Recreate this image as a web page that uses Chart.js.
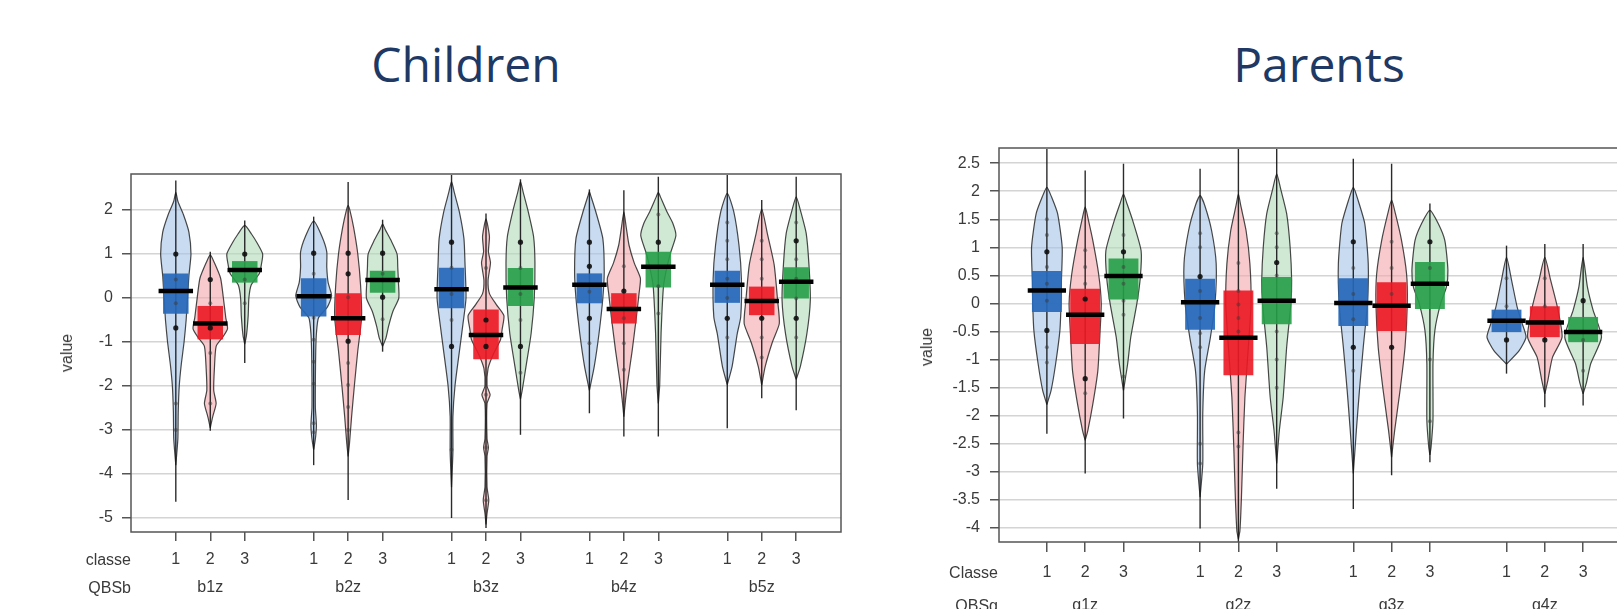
<!DOCTYPE html>
<html lang="en">
<head>
<meta charset="UTF-8">
<title>Children / Parents - pirate plots</title>
<script src="https://cdn.jsdelivr.net/npm/chart.js"></script>
<style>
  body {
    margin: 0;
    width: 1617px;
    height: 609px;
    overflow: hidden;
    position: relative;
    background: #fff;
    font-family: "Liberation Sans", Arial, sans-serif;
  }
  .title {
    position: absolute;
    top: 40px;
    font-family: "Open Sans", sans-serif;
    font-size: 48px;
    line-height: 1;
    color: #203864;
    transform: translateX(-50%);
    white-space: nowrap;
  }
  .wrap { position: absolute; }
  .lab {
    position: absolute;
    font-size: 16px;
    line-height: 20px;
    color: #3a3a3a;
    white-space: nowrap;
    transform: translate(-100%, -50%);
  }
  .ylab {
    position: absolute;
    font-size: 16px;
    line-height: 20px;
    color: #3a3a3a;
    transform: translate(-50%, -50%) rotate(-90deg);
  }
</style>
</head>
<body>
  <div class="title" style="left:466px">Children</div>
  <div class="title" style="left:1319px">Parents</div>

  <div class="wrap" style="left:40px; top:160px">
    <canvas id="childChart" width="820" height="449"></canvas>
  </div>
  <div class="wrap" style="left:900px; top:130px">
    <canvas id="parentChart" width="740" height="479"></canvas>
  </div>

  <div class="ylab" style="left:67px; top:353px">value</div>
  <div class="lab" style="left:131px; top:560px">classe</div>
  <div class="lab" style="left:131px; top:588px">QBSb</div>

  <div class="ylab" style="left:927px; top:347px">value</div>
  <div class="lab" style="left:998px; top:573px">Classe</div>
  <div class="lab" style="left:998px; top:606px">QBSg</div>

<script>
// ---- data ----
const classes = ['1', '2', '3'];
const childGroups = ['b1z', 'b2z', 'b3z', 'b4z', 'b5z'];
const parentGroups = ['g1z', 'g2z', 'g3z', 'g4z'];
const childTicks = [-5, -4, -3, -2, -1, 0, 1, 2];
const parentTicks = [-4, -3.5, -3, -2.5, -2, -1.5, -1, -0.5, 0, 0.5, 1, 1.5, 2, 2.5];

// children: order b1z(1,2,3), b2z(1,2,3), ...
const childMeans   = [0.16, -0.58, 0.64, 0.04, -0.46, 0.41, 0.2, -0.84, 0.24, 0.3, -0.25, 0.71, 0.3, -0.07, 0.37];
const childBoxHigh = [0.56, -0.18, 0.84, 0.45, 0.11, 0.62, 0.69, -0.26, 0.68, 0.56, 0.11, 1.05, 0.62, 0.26, 0.7];
const childBoxLow  = [-0.36, -0.94, 0.35, -0.42, -0.84, 0.12, -0.23, -1.39, -0.18, -0.12, -0.58, 0.24, -0.11, -0.39, -0.01];
const childLineTop = [2.67, 1.05, 1.76, 1.85, 2.64, 1.78, 2.8, 1.92, 2.7, 2.47, 2.45, 2.76, 2.8, 2.23, 2.76];
const childLineBottom = [-4.63, -3.02, -1.48, -3.8, -4.59, -1.22, -5.0, -5.23, -3.11, -2.62, -3.15, -3.15, -2.96, -2.28, -2.55];
// violin outline: [value, half width]
const childViolins = [
  [[-3.8,0],[-3.2,0.06],[-2.6,0.07],[-2,0.1],[-1.5,0.16],[-1,0.24],[-0.5,0.3],[0,0.34],[0.5,0.38],[1,0.44],[1.5,0.38],[1.9,0.22],[2.2,0.06],[2.4,0]],
  [[-2.95,0],[-2.7,0.07],[-2.4,0.17],[-2.1,0.1],[-1.6,0.12],[-1.1,0.17],[-0.9,0.35],[-0.7,0.5],[-0.45,0.45],[0,0.38],[0.45,0.3],[0.8,0.12],[0.98,0]],
  [[-1.05,0],[-0.85,0.05],[-0.4,0.1],[0,0.12],[0.3,0.19],[0.55,0.42],[0.75,0.48],[1,0.52],[1.25,0.36],[1.45,0.2],[1.65,0]],
  [[-3.45,0],[-3.2,0.05],[-2.9,0.08],[-2.5,0.05],[-1.8,0.05],[-1.2,0.06],[-0.8,0.08],[-0.45,0.14],[-0.2,0.4],[0.05,0.52],[0.35,0.42],[0.7,0.38],[1.05,0.38],[1.4,0.24],[1.75,0]],
  [[-3.6,0],[-3.3,0.04],[-2.7,0.1],[-2,0.18],[-1.2,0.28],[-0.45,0.39],[0.3,0.36],[1,0.28],[1.6,0.16],[2,0.05],[2.1,0]],
  [[-1.1,0],[-0.9,0.1],[-0.65,0.17],[-0.3,0.3],[0,0.47],[0.35,0.46],[0.7,0.44],[1,0.42],[1.3,0.25],[1.55,0.08],[1.68,0]],
  [[-4.3,0],[-3.5,0.04],[-2.7,0.04],[-2,0.1],[-1.2,0.23],[-0.6,0.33],[0,0.42],[0.8,0.39],[1.35,0.36],[1.95,0.23],[2.4,0.08],[2.65,0]],
  [[-5.15,0],[-4.9,0.03],[-4.6,0.08],[-4.3,0.03],[-3.6,0.03],[-3.4,0.07],[-3.2,0.03],[-2.4,0.03],[-2.2,0.12],[-2,0.03],[-1.6,0.06],[-1.3,0.2],[-0.95,0.42],[-0.7,0.47],[-0.4,0.52],[-0.15,0.3],[0.1,0.1],[0.4,0.06],[0.8,0.13],[1.05,0.07],[1.4,0.1],[1.8,0]],
  [[-2.3,0],[-2.1,0.05],[-1.56,0.16],[-0.8,0.31],[0,0.4],[0.8,0.42],[1.4,0.38],[1.95,0.23],[2.4,0.08],[2.65,0]],
  [[-2.1,0],[-1.56,0.14],[-0.8,0.28],[0,0.39],[0.6,0.43],[1.35,0.39],[1.95,0.19],[2.35,0.03],[2.42,0]],
  [[-2.7,0],[-2.3,0.05],[-1.97,0.1],[-1.2,0.24],[-0.45,0.36],[0.1,0.44],[0.45,0.48],[0.8,0.3],[1.2,0.15],[1.6,0.07],[1.96,0]],
  [[-2.4,0],[-1.97,0.04],[-0.8,0.08],[0.27,0.15],[0.7,0.25],[1.04,0.36],[1.42,0.51],[1.7,0.42],[1.96,0.25],[2.3,0.06],[2.4,0]],
  [[-1.97,0],[-1.56,0.14],[-0.81,0.29],[-0.43,0.39],[0.44,0.41],[1.2,0.34],[1.96,0.19],[2.38,0]],
  [[-1.98,0],[-1.56,0.1],[-1,0.31],[-0.58,0.51],[-0.05,0.46],[0.76,0.36],[1.44,0.17],[2.02,0]],
  [[-1.85,0],[-1.56,0.12],[-0.81,0.31],[-0.05,0.41],[0.76,0.37],[1.47,0.29],[2,0.12],[2.3,0]]
];
const childPoints = [
  [0.42, -0.12, -2.4, -3.0],
  [-0.12, -1.25, -2.4],
  [0.42, -0.12],
  [0.55, -0.45, -0.95, -1.45, -1.95, -2.85, -3.05],
  [0.02, -1.48, -1.98, -2.48, -3.0],
  [0.55, -0.48],
  [0.69, 0.09, -0.5, -3.45],
  [0.68, -2.2, -3.4, -4.6],
  [0.68, 0.09, -0.5, -1.7],
  [0.14, -1.03],
  [0.72, -0.46, -1.03, -1.63],
  [1.9, 0.27, -0.35],
  [1.72, 1.3, 0.88, 0.44, 0.0, -0.9],
  [1.3, 0.88, 0.44, -0.9, -1.35],
  [1.72, 0.88, 0.44, -0.01, -0.9]
];
const childDots = [
  [1.0, -0.68], [0.42, -0.68], [1.0],
  [1.02], [1.02, 0.55, -0.98], [1.02, 0.02],
  [1.27, -1.1], [-0.5, -1.1], [1.27, -1.1],
  [1.27, 0.72, -0.46], [0.16], [1.27],
  [-0.46], [-0.46], [1.3, -0.46]
];

// parents: order g1z(1,2,3), g2z(1,2,3), ...
const parentMeans   = [0.23, -0.2, 0.49, 0.02, -0.61, 0.05, 0.01, -0.04, 0.35, -0.31, -0.34, -0.51];
const parentBoxHigh = [0.58, 0.26, 0.8, 0.44, 0.23, 0.47, 0.45, 0.38, 0.74, -0.11, -0.05, -0.24];
const parentBoxLow  = [-0.15, -0.72, 0.07, -0.47, -1.28, -0.37, -0.4, -0.49, -0.1, -0.51, -0.6, -0.69];
const parentLineTop = [2.75, 2.37, 2.49, 2.4, 2.75, 2.75, 2.58, 2.49, 1.78, 1.03, 1.06, 1.06];
const parentLineBottom = [-2.32, -3.03, -2.05, -4.01, -4.25, -3.3, -3.66, -3.06, -2.83, -1.25, -1.85, -1.82];
const parentViolins = [
  [[-1.8,0],[-1.55,0.11],[-1.07,0.23],[-0.48,0.34],[0,0.37],[0.41,0.38],[1,0.4],[1.6,0.28],[1.9,0.12],[2.07,0]],
  [[-2.44,0],[-2.26,0.07],[-1.79,0.2],[-1.2,0.33],[-0.6,0.38],[0,0.42],[0.53,0.35],[1.12,0.2],[1.5,0.08],[1.72,0]],
  [[-1.55,0],[-1.07,0.11],[-0.6,0.19],[0,0.35],[0.47,0.44],[0.94,0.46],[1.48,0.24],[1.8,0.08],[1.95,0]],
  [[-3.45,0],[-2.86,0.07],[-1.96,0.07],[-1.2,0.12],[-0.6,0.27],[0,0.39],[0.71,0.42],[1.3,0.3],[1.75,0.12],[1.92,0]],
  [[-4.2,0],[-4.05,0.04],[-3.45,0.08],[-2.56,0.12],[-1.67,0.17],[-0.78,0.26],[0,0.33],[0.71,0.3],[1.3,0.2],[1.75,0.06],[1.95,0]],
  [[-2.85,0],[-2.26,0.07],[-1.67,0.17],[-0.78,0.26],[0,0.37],[0.42,0.39],[1.01,0.35],[1.6,0.26],[2.05,0.1],[2.31,0]],
  [[-3.03,0],[-2.26,0.08],[-1.55,0.16],[-0.78,0.26],[0,0.37],[0.71,0.39],[1.42,0.3],[1.85,0.12],[2.07,0]],
  [[-2.74,0],[-2.26,0.08],[-1.55,0.22],[-0.78,0.35],[0,0.41],[0.53,0.39],[1.12,0.26],[1.6,0.1],[1.84,0]],
  [[-2.7,0],[-2.56,0.03],[-2.08,0.08],[-1.07,0.08],[-0.48,0.13],[0,0.28],[0.29,0.43],[0.59,0.47],[1.12,0.39],[1.42,0.22],[1.66,0]],
  [[-1.08,0],[-0.84,0.33],[-0.6,0.51],[-0.36,0.41],[-0.07,0.28],[0.42,0.13],[0.82,0]],
  [[-1.61,0],[-1.37,0.08],[-0.96,0.2],[-0.6,0.45],[-0.07,0.33],[0.42,0.15],[0.82,0]],
  [[-1.61,0],[-1.43,0.08],[-1.07,0.2],[-0.6,0.48],[-0.12,0.26],[0.3,0.11],[0.82,0]]
];
const parentPoints = [
  [1.5, 1.22, 0.65, 0.35, 0.05, -0.78, -1.05],
  [0.95, 0.65, 0.35, -1.6],
  [1.22, 0.65, 0.35, 0.05, -0.2, -1.3],
  [1.25, 1.0, 0.22, -0.26, -0.53, -0.78, -2.5, -2.85],
  [0.72, 0.22, -0.02, -0.26, -0.5, -2.3, -2.55],
  [1.25, 1.0, 0.5, -0.5, -1.0, -1.5],
  [0.63, 0.17, -0.28, -1.2],
  [1.1, 0.63, 0.17],
  [0.63, 0.35, -1.0, -2.1],
  [0.45, -0.05],
  [0.45, -0.05],
  [-0.65, -1.2]
];
const parentDots = [
  [0.92, -0.48], [0.08, -1.34], [0.92],
  [0.48], [], [0.73],
  [1.1, -0.78], [-0.78], [1.1],
  [-0.65], [-0.65], [0.05]
];

// ---- styling ----
const violinFill = ['rgba(163,195,230,0.6)', 'rgba(243,167,172,0.6)', 'rgba(177,218,183,0.6)'];
const boxFill = ['rgba(38,104,186,0.92)', 'rgba(236,24,36,0.9)', 'rgba(38,158,72,0.9)'];
const FONT = "'Liberation Sans', Arial, sans-serif";

function pirateDatasets(means, boxLow, boxHigh, lineTop, lineBottom, violins, points, dots, boxHalf) {
  const sets = [];
  means.forEach((m, i) => {
    const c = i % 3;
    const cx = 1 + 4 * Math.floor(i / 3) + c;
    const prof = violins[i];
    const left = prof.map(p => ({x: cx - p[1], y: p[0]}));
    const right = prof.slice(1, -1).reverse().map(p => ({x: cx + p[1], y: p[0]}));
    // violin
    sets.push({
      data: left.concat(right, [left[0]]), fill: 'shape', backgroundColor: violinFill[c],
      borderColor: 'rgba(40,40,40,0.85)', borderWidth: 1.2, tension: 0.2, pointRadius: 0, order: 5
    });
    // data range line
    sets.push({
      data: [{x: cx, y: lineBottom[i]}, {x: cx, y: lineTop[i]}], fill: false,
      borderColor: 'rgba(20,20,20,0.9)', borderWidth: 1.4, pointRadius: 0, order: 4
    });
    // inference box
    sets.push({
      data: [{x: cx - boxHalf, y: boxLow[i]}, {x: cx + boxHalf, y: boxLow[i]},
             {x: cx + boxHalf, y: boxHigh[i]}, {x: cx - boxHalf, y: boxHigh[i]}],
      fill: 'shape', backgroundColor: boxFill[c], borderColor: 'transparent', borderWidth: 0,
      tension: 0, pointRadius: 0, order: 3
    });
    // raw points
    sets.push({
      data: points[i].map(v => ({x: cx, y: v})), showLine: false, pointRadius: 2,
      pointBackgroundColor: 'rgba(60,60,60,0.5)', pointBorderColor: 'transparent', pointBorderWidth: 0, order: 2
    });
    sets.push({
      data: dots[i].map(v => ({x: cx, y: v})), showLine: false, pointRadius: 2.6,
      pointBackgroundColor: 'rgba(15,15,15,0.9)', pointBorderColor: 'transparent', pointBorderWidth: 0, order: 2
    });
    // mean
    sets.push({
      data: [{x: cx - 0.5, y: m}, {x: cx + 0.5, y: m}], fill: false,
      borderColor: '#000', borderWidth: 4.5, pointRadius: 0, order: 1
    });
  });
  return sets;
}

const framePlugin = {
  id: 'frame',
  afterDatasetsDraw(chart) {
    const {ctx, chartArea: a} = chart;
    ctx.save();
    ctx.strokeStyle = '#555';
    ctx.lineWidth = 1.5;
    ctx.strokeRect(a.left, a.top, a.right - a.left, a.bottom - a.top);
    ctx.restore();
  }
};

function makePirate(canvasId, cfg) {
  const positions = [];
  cfg.groups.forEach((g, gi) => classes.forEach((c, ci) => positions.push(1 + 4 * gi + ci)));
  return new Chart(document.getElementById(canvasId), {
    type: 'line',
    data: {
      datasets: pirateDatasets(cfg.means, cfg.boxLow, cfg.boxHigh, cfg.lineTop, cfg.lineBottom,
                               cfg.violins, cfg.points, cfg.dots, cfg.boxHalf)
    },
    options: {
      responsive: false,
      animation: false,
      devicePixelRatio: 1,
      layout: {padding: cfg.padding},
      plugins: {legend: {display: false}, tooltip: {enabled: false}},
      scales: {
        x: {
          type: 'linear', min: cfg.xMin, max: cfg.xMax,
          afterBuildTicks: s => { s.ticks = positions.map(v => ({value: v})); },
          afterFit: s => { s.height = cfg.xHeight; s.paddingLeft = 0; s.paddingRight = 0; },
          border: {display: false},
          grid: {drawOnChartArea: false, tickLength: cfg.tickLen, tickColor: '#555', lineWidth: 1.5},
          ticks: {
            autoSkip: false, maxRotation: 0, padding: cfg.xPad, color: '#3a3a3a',
            font: {family: FONT, size: 16, lineHeight: cfg.xLine},
            callback: v => {
              const gi = Math.floor((v - 1) / 4), ci = (v - 1) % 4;
              return ci === 1 ? [classes[ci], cfg.groups[gi]] : classes[ci];
            }
          }
        },
        y: {
          min: cfg.yMin, max: cfg.yMax,
          afterBuildTicks: s => { s.ticks = cfg.ticks.map(v => ({value: v})); },
          afterFit: s => { s.width = cfg.yWidth; s.paddingTop = 0; s.paddingBottom = 0; },
          border: {display: false},
          grid: {color: '#d4d4d4', lineWidth: 1.5, tickLength: 9, tickColor: '#555'},
          ticks: {
            padding: cfg.yPad, color: '#3a3a3a', font: {family: FONT, size: 16},
            callback: v => String(v)
          }
        }
      }
    },
    plugins: [framePlugin]
  });
}

makePirate('childChart', {
  groups: childGroups, ticks: childTicks,
  means: childMeans, boxLow: childBoxLow, boxHigh: childBoxHigh,
  lineTop: childLineTop, lineBottom: childLineBottom,
  violins: childViolins, points: childPoints, dots: childDots,
  boxHalf: 0.37, xMin: -0.3, xMax: 20.3, yMin: -5.32, yMax: 2.82,
  padding: {left: 0, top: 14, right: 19, bottom: 0},
  yWidth: 91, xHeight: 77, tickLen: 9, xPad: 5, xLine: 1.75, yPad: 9
});

makePirate('parentChart', {
  groups: parentGroups, ticks: parentTicks,
  means: parentMeans, boxLow: parentBoxLow, boxHigh: parentBoxHigh,
  lineTop: parentLineTop, lineBottom: parentLineBottom,
  violins: parentViolins, points: parentPoints, dots: parentDots,
  boxHalf: 0.39, xMin: -0.25, xMax: 16.25, yMin: -4.25, yMax: 2.77,
  padding: {left: 0, top: 18, right: 9, bottom: 0},
  yWidth: 99, xHeight: 67, tickLen: 10, xPad: 4.5, xLine: 2.06, yPad: 10
});
</script>
</body>
</html>
